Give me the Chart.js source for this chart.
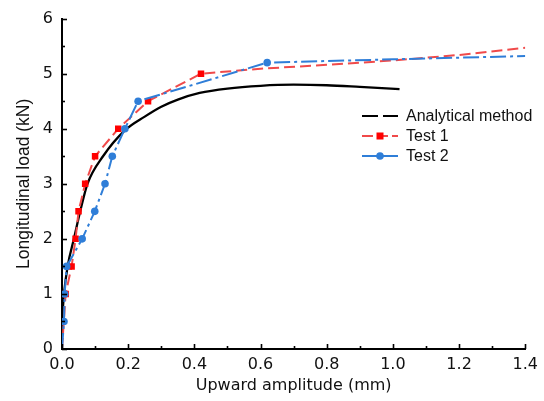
<!DOCTYPE html>
<html>
<head>
<meta charset="utf-8">
<script src="https://cdn.jsdelivr.net/npm/chart.js@4.4.1/dist/chart.umd.min.js"></script>
<style>
  html, body { margin: 0; padding: 0; background: #fff; }
  #wrap { width: 544px; height: 401px; }
</style>
</head>
<body>
<div id="wrap"><canvas id="chart"></canvas></div>
<script>
// values
const analyticalX = [0, 0.006, 0.017, 0.036, 0.055, 0.077, 0.124, 0.19, 0.25, 0.3, 0.35, 0.416, 0.5, 0.6, 0.7, 0.8, 0.9, 1.02];
const analyticalY = [0.5, 1.0, 1.5, 2.0, 2.5, 3.0, 3.5, 3.97, 4.22, 4.4, 4.53, 4.65, 4.73, 4.78, 4.8, 4.79, 4.76, 4.72];

const test1X = [0, 0.011, 0.029, 0.041, 0.05, 0.07, 0.1, 0.17, 0.26, 0.42, 0.6, 0.8, 1.0, 1.2, 1.4];
const test1Y = [0, 1.0, 1.5, 2.0, 2.5, 3.0, 3.5, 4.0, 4.5, 5.0, 5.09, 5.16, 5.24, 5.34, 5.47];

const test2X = [0, 0.006, 0.008, 0.014, 0.061, 0.099, 0.13, 0.152, 0.19, 0.23, 0.62, 0.8, 1.0, 1.2, 1.4];
const test2Y = [0, 0.5, 1.0, 1.5, 2.0, 2.5, 3.0, 3.5, 4.0, 4.5, 5.2, 5.23, 5.26, 5.29, 5.32];

const xTicks = [0, 0.2, 0.4, 0.6, 0.8, 1.0, 1.2, 1.4];
const yTicks = [0, 1, 2, 3, 4, 5, 6];

const legendLabels = ['Analytical method', 'Test 1', 'Test 2'];

const RED_LINE = '#f04a4a';
const RED_MARK = '#ff0000';
const BLUE = '#2f7ed8';

const toPoints = (xs, ys) => xs.map((x, i) => ({ x, y: ys[i] }));

// marked points only: first point sits on the axis, tail is the unmarked trend
const test1Radius = (ctx) => (ctx.dataIndex > 0 && ctx.dataIndex <= 9 ? 4.6 : 0);
const test2Radius = (ctx) => (ctx.dataIndex > 0 && ctx.dataIndex <= 10 ? 3.8 : 0);

// inward major/minor ticks, like the original plot
const innerTicks = {
  id: 'innerTicks',
  afterDatasetsDraw(chart) {
    const { ctx, scales: { x, y }, chartArea: a } = chart;
    ctx.save();
    ctx.strokeStyle = '#000';
    ctx.lineWidth = 1.6;
    for (let i = 0; i <= 14; i++) {
      const px = Math.round(x.getPixelForValue(i / 10)) + 0.5;
      const len = i % 2 === 0 ? 5 : 3;
      ctx.beginPath();
      ctx.moveTo(px, a.bottom);
      ctx.lineTo(px, a.bottom - len);
      ctx.stroke();
    }
    for (let i = 0; i <= 12; i++) {
      const py = Math.round(y.getPixelForValue(i / 2)) + 0.5;
      const len = i % 2 === 0 ? 5 : 3;
      ctx.beginPath();
      ctx.moveTo(a.left, py);
      ctx.lineTo(a.left + len, py);
      ctx.stroke();
    }
    ctx.restore();
  },
};

// legend drawn by hand: the samples mix dashes and markers
const lineLegend = {
  id: 'lineLegend',
  afterDraw(chart) {
    const ctx = chart.ctx;
    const x0 = 362, x1 = 398, tx = 406;
    const rows = [116, 136, 156];
    ctx.save();
    ctx.lineWidth = 2;

    // analytical: black dashes
    ctx.strokeStyle = '#000';
    ctx.setLineDash([16, 5]);
    ctx.beginPath(); ctx.moveTo(x0, rows[0]); ctx.lineTo(x1, rows[0]); ctx.stroke();

    // test 1: red dashes + square
    ctx.strokeStyle = RED_LINE;
    ctx.setLineDash([11, 4]);
    ctx.beginPath(); ctx.moveTo(x0, rows[1]); ctx.lineTo(x1, rows[1]); ctx.stroke();
    ctx.setLineDash([]);
    ctx.fillStyle = RED_MARK;
    ctx.fillRect(376.5, rows[1] - 3.5, 7, 7);

    // test 2: blue line + circle
    ctx.strokeStyle = BLUE;
    ctx.beginPath(); ctx.moveTo(x0, rows[2]); ctx.lineTo(x1, rows[2]); ctx.stroke();
    ctx.fillStyle = BLUE;
    ctx.beginPath(); ctx.arc(380, rows[2], 3.8, 0, Math.PI * 2); ctx.fill();

    ctx.fillStyle = '#111';
    ctx.font = '16px "Liberation Sans", Arial, sans-serif';
    ctx.textBaseline = 'middle';
    legendLabels.forEach((t, i) => ctx.fillText(t, tx, rows[i] + 1));
    ctx.restore();
  },
};

new Chart(document.getElementById('chart'), {
  type: 'line',
  data: {
    datasets: [
      {
        label: legendLabels[0],
        data: toPoints(analyticalX, analyticalY),
        borderColor: '#000',
        borderWidth: 2.3,
        pointRadius: 0,
        cubicInterpolationMode: 'monotone',
        fill: false,
        order: 3,
      },
      {
        label: legendLabels[1],
        data: toPoints(test1X, test1Y),
        borderColor: RED_LINE,
        borderWidth: 2,
        borderDash: [11, 5],
        pointStyle: 'rect',
        pointRadius: test1Radius,
        pointBackgroundColor: RED_MARK,
        pointBorderColor: RED_MARK,
        pointBorderWidth: 0,
        tension: 0,
        fill: false,
        order: 2,
      },
      {
        label: legendLabels[2],
        data: toPoints(test2X, test2Y),
        borderColor: BLUE,
        borderWidth: 2,
        borderDash: [16, 4, 3, 4],
        pointStyle: 'circle',
        pointRadius: test2Radius,
        pointBackgroundColor: BLUE,
        pointBorderColor: BLUE,
        pointBorderWidth: 0,
        tension: 0,
        fill: false,
        order: 1,
      },
    ],
  },
  options: {
    responsive: true,
    maintainAspectRatio: false,
    animation: false,
    layout: { padding: { top: 16, right: 17, bottom: 0, left: 0 } },
    plugins: {
      legend: { display: false },
      tooltip: { enabled: false },
    },
    scales: {
      x: {
        type: 'linear',
        min: 0,
        max: 1.4,
        afterFit: (s) => { s.height = 52; },
        afterBuildTicks: (s) => { s.ticks = xTicks.map((v) => ({ value: v })); },
        grid: { display: false, drawTicks: false },
        border: { display: true, color: '#000', width: 2 },
        ticks: {
          color: '#111',
          padding: 6,
          font: { family: '"DejaVu Sans", sans-serif', size: 16 },
          callback: (v) => v.toFixed(1),
        },
        title: {
          display: true,
          text: 'Upward amplitude (mm)',
          color: '#111',
          padding: { top: 0, bottom: 6 },
          font: { family: '"DejaVu Sans", sans-serif', size: 16 },
        },
      },
      y: {
        type: 'linear',
        min: 0,
        max: 6,
        afterFit: (s) => { s.width = 62; },
        afterBuildTicks: (s) => { s.ticks = yTicks.map((v) => ({ value: v })); },
        grid: { display: false, drawTicks: false },
        border: { display: true, color: '#000', width: 2 },
        ticks: {
          color: '#111',
          padding: 9,
          font: { family: '"DejaVu Sans", sans-serif', size: 16 },
        },
        title: {
          display: true,
          text: 'Longitudinal load (kN)',
          color: '#111',
          padding: { top: 14, bottom: 0 },
          font: { family: '"Liberation Sans", Arial, sans-serif', size: 17.5 },
        },
      },
    },
  },
  plugins: [innerTicks, lineLegend],
});
</script>
</body>
</html>
